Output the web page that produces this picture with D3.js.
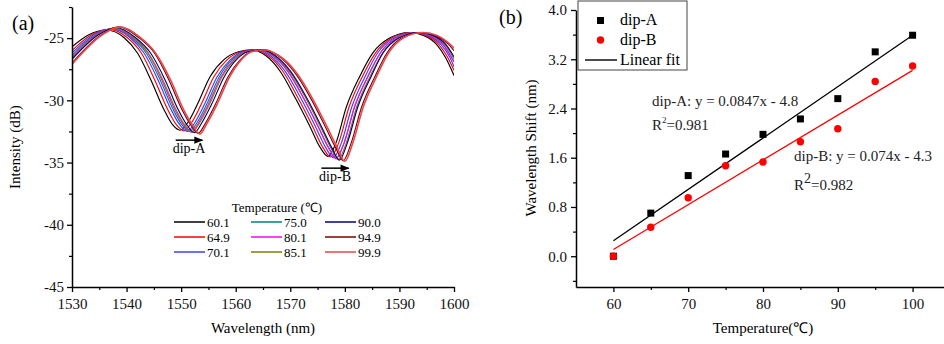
<!DOCTYPE html>
<html>
<head>
<meta charset="utf-8">
<script src="https://cdn.jsdelivr.net/npm/d3@7"></script>
<style>
body { margin: 0; background: #fff; }
svg, svg text { font-family: "Liberation Serif", "Times New Roman", serif; }
</style>
</head>
<body>
<svg id="fig" width="944" height="344" font-family="Liberation Serif, serif"></svg>
<script>
// ---- (a) spectra: [wavelength nm, intensity dB]
const temps = ["60.1", "64.9", "70.1", "75.0", "80.1", "85.1", "90.0", "94.9", "99.9"];
const s601 = [[1530,-25.7],[1533,-24.75],[1536.3,-24.35],[1539.5,-24.95],[1542,-26.2],[1544.5,-28.4],[1546.8,-30.7],[1548.5,-32.0],[1549.8,-32.4],[1551.2,-31.8],[1553,-30.3],[1555.3,-28.1],[1557.8,-26.75],[1560.5,-26.1],[1563,-25.95],[1565.5,-26.4],[1568.2,-27.7],[1570.9,-29.8],[1573.6,-32.1],[1575.5,-33.8],[1576.9,-34.5],[1578.3,-33.5],[1580.3,-30.5],[1582.7,-28.1],[1585.1,-26.2],[1588.2,-25.0],[1591.8,-24.55],[1594.5,-24.8],[1596.8,-25.5],[1598.5,-26.6],[1600,-28.0]];
const s649 = [[1530,-26.0],[1533.5,-24.75],[1536.8,-24.3],[1540.1,-24.95],[1542.7,-26.2],[1545.2,-28.4],[1547.5,-30.7],[1549.2,-32.0],[1550.5,-32.45],[1551.9,-31.8],[1553.7,-30.3],[1556,-28.1],[1558.4,-26.75],[1560.9,-26.1],[1563.4,-25.95],[1565.9,-26.4],[1568.7,-27.7],[1571.4,-29.8],[1574.1,-32.1],[1576,-33.8],[1577.4,-34.55],[1578.8,-33.5],[1580.8,-30.5],[1583.2,-28.1],[1585.6,-26.2],[1588.6,-25.0],[1592.2,-24.55],[1594.9,-24.8],[1597.2,-25.5],[1598.9,-26.6],[1600,-27.6]];
const s701 = [[1530,-26.2],[1533.9,-24.75],[1537.2,-24.25],[1540.6,-24.95],[1543.2,-26.2],[1545.8,-28.4],[1548.1,-30.7],[1549.8,-32.0],[1551.1,-32.5],[1552.5,-31.8],[1554.3,-30.3],[1556.6,-28.1],[1559,-26.75],[1561.3,-26.1],[1563.8,-25.95],[1566.3,-26.4],[1569.1,-27.7],[1571.9,-29.8],[1574.6,-32.1],[1576.5,-33.8],[1577.9,-34.6],[1579.3,-33.5],[1581.3,-30.5],[1583.7,-28.1],[1586,-26.2],[1589,-25.0],[1592.6,-24.55],[1595.3,-24.8],[1597.6,-25.5],[1599.3,-26.6],[1600,-27.3]];
const s750 = [[1530,-26.4],[1534.2,-24.75],[1537.5,-24.25],[1540.9,-24.95],[1543.6,-26.2],[1546.2,-28.4],[1548.5,-30.7],[1550.2,-32.0],[1551.5,-32.5],[1552.9,-31.8],[1554.7,-30.3],[1557,-28.1],[1559.3,-26.75],[1561.7,-26.1],[1564.2,-25.95],[1566.7,-26.4],[1569.6,-27.7],[1572.4,-29.8],[1575.1,-32.1],[1577,-33.8],[1578.4,-34.65],[1579.8,-33.5],[1581.8,-30.5],[1584.2,-28.1],[1586.5,-26.2],[1589.4,-25.0],[1593,-24.55],[1595.7,-24.8],[1598,-25.5],[1600,-26.9]];
const s801 = [[1530,-26.5],[1534.4,-24.75],[1537.7,-24.2],[1541.1,-24.95],[1543.9,-26.2],[1546.5,-28.4],[1548.8,-30.7],[1550.5,-32.0],[1551.8,-32.55],[1553.2,-31.8],[1555,-30.3],[1557.3,-28.1],[1559.6,-26.75],[1561.8,-26.1],[1564.3,-25.95],[1566.8,-26.4],[1569.6,-27.7],[1572.4,-29.8],[1575.1,-32.1],[1577,-33.8],[1578.4,-34.7],[1579.8,-33.5],[1581.8,-30.5],[1584.2,-28.1],[1586.5,-26.2],[1589.4,-25.0],[1593,-24.55],[1595.7,-24.8],[1598,-25.5],[1600,-26.9]];
const s851 = [[1530,-26.6],[1534.6,-24.75],[1537.9,-24.2],[1541.3,-24.95],[1544,-26.2],[1546.7,-28.4],[1549,-30.7],[1550.7,-32.0],[1552,-32.55],[1553.4,-31.8],[1555.2,-30.3],[1557.5,-28.1],[1559.8,-26.75],[1562,-26.1],[1564.5,-25.95],[1567,-26.4],[1569.9,-27.7],[1572.8,-29.8],[1575.5,-32.1],[1577.4,-33.8],[1578.8,-34.75],[1580.2,-33.5],[1582.2,-30.5],[1584.6,-28.1],[1586.9,-26.2],[1589.7,-25.0],[1593.3,-24.55],[1596,-24.8],[1598.3,-25.5],[1600,-26.65]];
const s900 = [[1530,-26.7],[1534.8,-24.75],[1538.1,-24.15],[1541.6,-24.95],[1544.4,-26.2],[1547.1,-28.4],[1549.4,-30.7],[1551.1,-32.0],[1552.4,-32.6],[1553.8,-31.8],[1555.6,-30.3],[1557.9,-28.1],[1560.1,-26.75],[1562.2,-26.1],[1564.7,-25.95],[1567.2,-26.4],[1570.1,-27.7],[1573,-29.8],[1575.7,-32.1],[1577.6,-33.8],[1579,-34.8],[1580.4,-33.5],[1582.4,-30.5],[1584.8,-28.1],[1587,-26.2],[1589.9,-25.0],[1593.5,-24.55],[1596.2,-24.8],[1598.5,-25.5],[1600,-26.5]];
const s949 = [[1530,-27.0],[1535.3,-24.75],[1538.6,-24.1],[1542.2,-24.95],[1545.1,-26.2],[1547.8,-28.4],[1550.1,-30.7],[1551.8,-32.0],[1553.1,-32.65],[1554.5,-31.8],[1556.3,-30.3],[1558.6,-28.1],[1560.8,-26.75],[1562.7,-26.1],[1565.2,-25.95],[1567.7,-26.4],[1570.7,-27.7],[1573.7,-29.8],[1576.4,-32.1],[1578.3,-33.8],[1579.7,-34.85],[1581.1,-33.5],[1583.1,-30.5],[1585.5,-28.1],[1587.7,-26.2],[1590.4,-25.0],[1594,-24.55],[1596.7,-24.8],[1599,-25.5],[1600,-26.0]];
const s999 = [[1530,-27.1],[1535.5,-24.75],[1538.8,-24.1],[1542.5,-24.95],[1545.3,-26.2],[1548.1,-28.4],[1550.4,-30.7],[1552.1,-32.0],[1553.4,-32.7],[1554.8,-31.8],[1556.6,-30.3],[1558.9,-28.1],[1561,-26.75],[1562.9,-26.1],[1565.4,-25.95],[1567.9,-26.4],[1571,-27.7],[1574,-29.8],[1576.7,-32.1],[1578.6,-33.8],[1580,-34.9],[1581.4,-33.5],[1583.4,-30.5],[1585.8,-28.1],[1588,-26.2],[1590.7,-25.0],[1594.3,-24.55],[1597,-24.8],[1599.3,-25.5],[1600,-25.8]];
const spectra = [s601, s649, s701, s750, s801, s851, s900, s949, s999];
const wlTicks = [1530, 1540, 1550, 1560, 1570, 1580, 1590, 1600];
const dbTicks = [-45, -40, -35, -30, -25];

// ---- (b) dip shifts
const tempC = [60, 65, 70, 75, 80, 85, 90, 95, 100];
const dipA = [0.0, 0.70, 1.31, 1.66, 1.98, 2.23, 2.56, 3.32, 3.59];
const dipB = [0.0, 0.47, 0.95, 1.47, 1.53, 1.86, 2.07, 2.84, 3.09];
const fitA = [[60, 0.25], [100, 3.59]];
const fitB = [[60, 0.11], [100, 3.02]];
const tTicks = [60, 70, 80, 90, 100];
const shiftTicks = [0.0, 0.8, 1.6, 2.4, 3.2, 4.0];

const colors = ["#000000", "#ff0000", "#3c3cff", "#008080", "#ff00ff", "#808000", "#000080", "#800000", "#e5484d"];
const FONT = "Liberation Serif, serif";

const svg = d3.select("#fig");
svg.append("rect").attr("width", 944).attr("height", 344).attr("fill", "#fff");

function styleAxis(g) {
	g.attr("font-family", FONT);
	g.select(".domain").attr("stroke-width", 1.5);
	g.selectAll(".tick line").attr("stroke-width", 1.3);
	g.selectAll("text").attr("font-size", 15).attr("fill", "#111");
}
function minorAxis(g) {
	g.select(".domain").remove();
	g.selectAll("text").remove();
	g.selectAll(".tick line").attr("stroke-width", 1.2);
}

// ================= panel (a)
const x = d3.scaleLinear().domain([1530, 1600]).range([72, 454]);
const y = d3.scaleLinear().domain([-45, -22.5]).range([287, 7]);

svg.append("clipPath").attr("id", "clipA")
	.append("rect").attr("x", x.range()[0]).attr("y", y.range()[1])
	.attr("width", x.range()[1] - x.range()[0]).attr("height", y.range()[0] - y.range()[1]);

const line = d3.line().x(d => x(d[0])).y(d => y(d[1])).curve(d3.curveMonotoneX);

svg.append("g").attr("clip-path", "url(#clipA)")
	.selectAll("path").data(spectra).join("path")
	.attr("d", line)
	.attr("fill", "none")
	.attr("stroke", (d, i) => colors[i])
	.attr("stroke-width", (d, i) => i === 8 ? 1.6 : 1.15);

svg.append("g").attr("transform", `translate(0,${y(-45)})`)
	.call(d3.axisBottom(x).tickValues(d3.range(1535, 1600, 10)).tickSize(3).tickFormat(""))
	.call(minorAxis);
svg.append("g").attr("transform", `translate(0,${y(-45)})`)
	.call(d3.axisBottom(x).tickValues(wlTicks).tickSize(5).tickSizeOuter(0).tickPadding(6).tickFormat(d => String(d)))
	.call(styleAxis);

svg.append("g").attr("transform", `translate(${x(1530)},0)`)
	.call(d3.axisLeft(y).tickValues([-42.5, -37.5, -32.5, -27.5, -22.5]).tickSize(3).tickFormat(""))
	.call(minorAxis);
svg.append("g").attr("transform", `translate(${x(1530)},0)`)
	.call(d3.axisLeft(y).tickValues(dbTicks).tickSize(5).tickSizeOuter(0).tickPadding(3).tickFormat(d => String(d)))
	.call(styleAxis);

svg.append("text").attr("x", 263).attr("y", 333).attr("text-anchor", "middle")
	.attr("font-size", 15).text("Wavelength (nm)");
svg.append("text").attr("transform", "translate(20,147) rotate(-90)").attr("text-anchor", "middle")
	.attr("font-size", 15).text("Intensity (dB)");
svg.append("text").attr("x", 12).attr("y", 30).attr("font-size", 20).text("(a)");

// dip arrows
svg.append("defs").append("marker").attr("id", "arr")
	.attr("viewBox", "0 0 10 10").attr("refX", 9).attr("refY", 5)
	.attr("markerWidth", 8).attr("markerHeight", 6).attr("orient", "auto")
	.append("path").attr("d", "M0,1L10,5L0,9Z").attr("fill", "#000");
const arrows = [
	{ name: "dip-A", x0: 1549.0, x1: 1553.9, db: -33.2 },
	{ name: "dip-B", x0: 1575.7, x1: 1580.7, db: -35.45 }
];
arrows.forEach(a => {
	svg.append("line").attr("x1", x(a.x0)).attr("x2", x(a.x1))
		.attr("y1", y(a.db)).attr("y2", y(a.db))
		.attr("stroke", "#000").attr("stroke-width", 1.5).attr("marker-end", "url(#arr)");
	svg.append("text").attr("x", (x(a.x0) + x(a.x1)) / 2).attr("y", y(a.db) + 13)
		.attr("text-anchor", "middle").attr("font-size", 14).text(a.name);
});

// legend (a)
svg.append("text").attr("x", 277).attr("y", 212).attr("text-anchor", "middle")
	.attr("font-size", 13).text("Temperature (℃)");
const legCols = [174, 251, 325];
const legA = svg.append("g").selectAll("g").data(temps).join("g")
	.attr("transform", (d, i) => `translate(${legCols[Math.floor(i / 3)]},${222 + (i % 3) * 15})`);
legA.append("line").attr("x1", 0).attr("x2", 31)
	.attr("stroke", (d, i) => colors[i]).attr("stroke-width", 1.5);
legA.append("text").attr("x", 33).attr("y", 4.5).attr("font-size", 13).text(d => d);

// ================= panel (b)
const x2 = d3.scaleLinear().domain([55, 105]).range([576, 950]);
const y2 = d3.scaleLinear().domain([-0.5, 4.0]).range([287, 10]);

svg.append("g").attr("transform", `translate(0,${y2(-0.5)})`)
	.call(d3.axisBottom(x2).tickValues([65, 75, 85, 95]).tickSize(3).tickFormat(""))
	.call(minorAxis);
svg.append("g").attr("transform", `translate(0,${y2(-0.5)})`)
	.call(d3.axisBottom(x2).tickValues(tTicks).tickSize(5).tickSizeOuter(0).tickPadding(6).tickFormat(d => String(d)))
	.call(styleAxis);
svg.append("g").attr("transform", `translate(${x2(55)},0)`)
	.call(d3.axisLeft(y2).tickValues([-0.4, 0.4, 1.2, 2.0, 2.8, 3.6]).tickSize(3).tickFormat(""))
	.call(minorAxis);
svg.append("g").attr("transform", `translate(${x2(55)},0)`)
	.call(d3.axisLeft(y2).tickValues(shiftTicks).tickSize(5).tickSizeOuter(0).tickPadding(4).tickFormat(d => d.toFixed(1)))
	.call(styleAxis);

svg.append("text").attr("x", 763).attr("y", 333).attr("text-anchor", "middle")
	.attr("font-size", 15).text("Temperature(℃)");
svg.append("text").attr("transform", "translate(536,148) rotate(-90)").attr("text-anchor", "middle")
	.attr("font-size", 15).text("Wavelength Shift (nm)");
svg.append("text").attr("x", 499).attr("y", 24).attr("font-size", 20).text("(b)");

const fitLine = d3.line().x(d => x2(d[0])).y(d => y2(d[1]));
svg.append("path").datum(fitA).attr("d", fitLine).attr("stroke", "#000").attr("stroke-width", 1.3).attr("fill", "none");
svg.append("path").datum(fitB).attr("d", fitLine).attr("stroke", "#ff0000").attr("stroke-width", 1.3).attr("fill", "none");

svg.append("g").selectAll("rect").data(tempC).join("rect")
	.attr("x", (d) => x2(d) - 3.5).attr("y", (d, i) => y2(dipA[i]) - 3.5)
	.attr("width", 7).attr("height", 7).attr("fill", "#000");
svg.append("g").selectAll("circle").data(tempC).join("circle")
	.attr("cx", d => x2(d)).attr("cy", (d, i) => y2(dipB[i]))
	.attr("r", 3.7).attr("fill", "#ff0000");

// equations
const eqA = svg.append("g").attr("font-size", 15).attr("fill", "#222");
eqA.append("text").attr("x", 652).attr("y", 106).text("dip-A: y = 0.0847x - 4.8");
const rA = eqA.append("text").attr("x", 652).attr("y", 130);
rA.append("tspan").text("R");
rA.append("tspan").attr("font-size", 9).attr("dy", -7).text("2");
rA.append("tspan").attr("dy", 7).text("=0.981");
eqA.append("text").attr("x", 794).attr("y", 161).text("dip-B: y = 0.074x - 4.3");
const rB = eqA.append("text").attr("x", 794).attr("y", 190);
rB.append("tspan").text("R");
rB.append("tspan").attr("font-size", 14).attr("dy", -7).text("2");
rB.append("tspan").attr("dy", 7).text("=0.982");

// legend (b)
const legB = svg.append("g");
legB.append("rect").attr("x", 578).attr("y", 1).attr("width", 109).attr("height", 69)
	.attr("fill", "#fff").attr("stroke", "#444").attr("stroke-width", 1);
legB.append("rect").attr("x", 597).attr("y", 17).attr("width", 7).attr("height", 7).attr("fill", "#000");
legB.append("circle").attr("cx", 600.5).attr("cy", 40).attr("r", 3.7).attr("fill", "#ff0000");
legB.append("line").attr("x1", 585).attr("x2", 617).attr("y1", 60).attr("y2", 60).attr("stroke", "#000").attr("stroke-width", 1.4);
legB.selectAll("text").data(["dip-A", "dip-B", "Linear fit"]).join("text")
	.attr("x", 620).attr("y", (d, i) => 25 + i * 20).attr("font-size", 16).text(d => d);
</script>
</body>
</html>
